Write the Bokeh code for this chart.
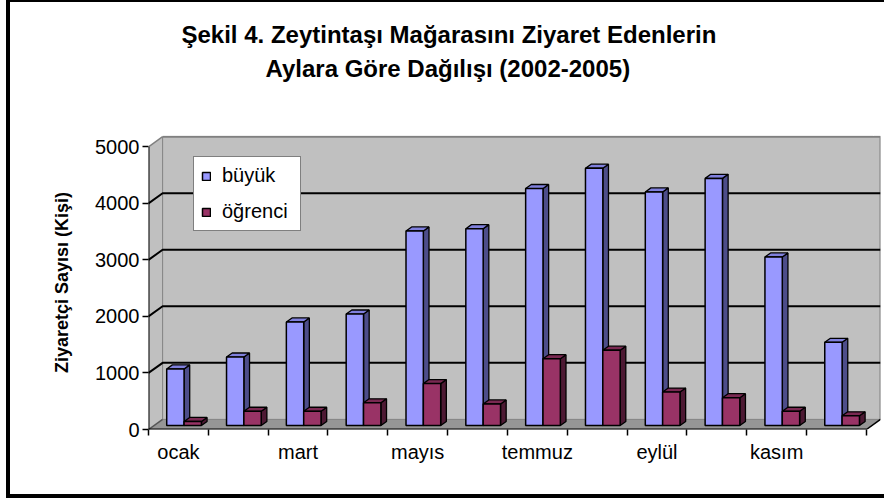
from bokeh.plotting import figure
from bokeh.models import Range1d, FixedTicker, Title, Legend, LegendItem, LinearAxis
from bokeh.embed import file_html
from bokeh.resources import INLINE

# ---------------- data ----------------
months = ["ocak", "şubat", "mart", "nisan", "mayıs", "haziran",
          "temmuz", "ağustos", "eylül", "ekim", "kasım", "aralık"]
buyuk = [1000, 1210, 1830, 1970, 3440, 3480, 4190, 4550, 4130, 4370, 2980, 1470]
ogrenci = [70, 250, 250, 400, 740, 380, 1180, 1330, 590, 490, 250, 170]
series_names = ["büyük", "öğrenci"]
y_ticks = [0, 1000, 2000, 3000, 4000, 5000]
y_max = 5000
title_lines = ["Şekil 4.  Zeytintaşı Mağarasını Ziyaret Edenlerin",
               "Aylara Göre Dağılışı (2002-2005)"]
y_title = "Ziyaretçi Sayısı (Kişi)"

# ---------------- style ----------------
FONT = "Liberation Sans"
DX = 0.236      # wall depth along x (category units)
DY = 179        # wall depth along y (value units)
BAR_FRONT = 0.4
BAR_DEPTH = 0.4
BAR_W = 0.29
front_cols = ["#9999FF", "#993366"]
side_cols = ["#4D4D8A", "#4D1933"]
top_cols = ["#8080DD", "#7A2952"]
WALL = "#C0C0C0"
FLOOR = "#969696"
EDGE = "#808080"

n = len(months)
x_end = n + DX

p = figure(width=878, height=498, output_backend="svg", toolbar_location=None,
           x_range=Range1d(0, x_end), y_range=Range1d(0, 5200),
           min_border_left=138, min_border_top=0, min_border_right=8,
           min_border_bottom=71, background_fill_color="white",
           border_fill_color="white", outline_line_color=None,
           styles={"border-left": "4px solid black", "border-top": "2px solid black",
                   "border-bottom": "4px solid black", "margin-left": "6px"})
p.xgrid.visible = False
p.ygrid.visible = False

# back wall
p.patch([DX, n + DX, n + DX, DX], [DY, DY, y_max + DY, y_max + DY],
        fill_color=WALL, line_color=None)
# left side wall
p.patch([0, DX, DX, 0], [0, DY, y_max + DY, y_max], fill_color=WALL, line_color=None)
# floor
p.patch([0, n, n + DX, DX], [0, 0, DY, DY], fill_color=FLOOR, line_color=None)
# wall edges
p.line([DX, n + DX, n + DX], [y_max + DY, y_max + DY, DY], line_color=EDGE, line_width=2)
p.line([DX, DX], [DY, y_max + DY], line_color=EDGE, line_width=1)
p.line([DX, n + DX], [DY, DY], line_color=EDGE, line_width=1)
p.line([0, DX], [y_max, y_max + DY], line_color=EDGE, line_width=1.5)
p.line([n, n + DX], [0, DY], line_color="black", line_width=1.5)
p.line([0, DX], [0, DY], line_color="#555555", line_width=1.5)
# gridlines
for v in y_ticks[1:-1]:
    p.line([0, DX, n + DX], [v, v + DY, v + DY], line_color="black", line_width=2)

# bars
renderers = []
for s, vals in enumerate([buyuk, ogrenci]):
    bx = BAR_FRONT * DX
    by = BAR_FRONT * DY
    sx = BAR_DEPTH * DX
    sy = BAR_DEPTH * DY
    x0 = [i + 0.5 - BAR_W + s * BAR_W + bx for i in range(n)]
    x1 = [a + BAR_W for a in x0]
    tops = [by + v for v in vals]
    side_xs = [[b, b, b + sx, b + sx] for b in x1]
    side_ys = [[by, t, t + sy, by + sy] for t in tops]
    top_xs = [[a, b, b + sx, a + sx] for a, b in zip(x0, x1)]
    top_ys = [[t, t, t + sy, t + sy] for t in tops]
    p.patches(side_xs, side_ys, fill_color=side_cols[s], line_color="black", line_width=1.3)
    p.patches(top_xs, top_ys, fill_color=top_cols[s], line_color="black", line_width=1.3)
    r = p.quad(left=x0, right=x1, bottom=[by] * n, top=tops,
               fill_color=front_cols[s], line_color="black", line_width=1.5)
    renderers.append(r)

# front axis lines
p.line([0, 0], [0, y_max], line_color="black", line_width=2)
p.line([0, n], [0, 0], line_color="black", line_width=2)

# y axis
ya = p.yaxis[0]
ya.ticker = FixedTicker(ticks=y_ticks)
ya.axis_line_color = None
ya.major_tick_out = 6
ya.major_tick_in = 0
ya.major_tick_line_width = 1.5
ya.minor_tick_line_color = None
ya.major_label_text_font = FONT
ya.major_label_text_font_size = "20px"
ya.major_label_text_color = "black"
ya.major_label_standoff = 3
ya.axis_label = y_title
ya.axis_label_text_font = FONT
ya.axis_label_text_font_size = "18px"
ya.axis_label_text_font_style = "bold"
ya.axis_label_text_color = "black"
ya.axis_label_standoff = 20

# x axis
xa = p.xaxis[0]
xa.ticker = FixedTicker(ticks=[i + 0.5 for i in range(0, n, 2)], minor_ticks=list(range(n + 1)))
xa.major_label_overrides = {i + 0.5: months[i] for i in range(0, n, 2)}
xa.axis_line_color = None
xa.major_tick_line_color = None
xa.major_tick_out = 0
xa.major_tick_in = 0
xa.minor_tick_line_color = "black"
xa.minor_tick_line_width = 1.5
xa.minor_tick_out = 6
xa.minor_tick_in = 0
xa.major_label_text_font = FONT
xa.major_label_text_font_size = "20px"
xa.major_label_text_color = "black"
xa.major_label_standoff = 5

# legend
legend = Legend(items=[LegendItem(label=series_names[i], renderers=[renderers[i]]) for i in range(2)],
                location=(45, 198), orientation="vertical",
                glyph_width=10, glyph_height=10, label_standoff=11, label_width=71,
                padding=7, spacing=13, margin=0,
                label_text_font=FONT, label_text_font_size="20px",
                label_text_color="black",
                border_line_color="black", border_line_width=1.5,
                background_fill_color="white", background_fill_alpha=1)
p.add_layout(legend)

SPACER_TICK = n + DX / 2   # far right, away from the title text


def spacer(h):
    # unlabeled white-tick axis used only to reserve vertical room above the frame
    return LinearAxis(ticker=FixedTicker(ticks=[SPACER_TICK]), axis_line_color=None,
                      major_tick_line_color="white", minor_tick_line_color=None,
                      major_tick_out=h, major_tick_in=0, minor_tick_out=0,
                      minor_tick_in=0, major_label_standoff=0,
                      major_label_overrides={SPACER_TICK: ""},
                      major_label_text_font_size="0px")


def title(txt, offset, standoff):
    return Title(text=txt, align="left", offset=offset, standoff=standoff,
                 text_font=FONT, text_font_size="24px", text_font_style="bold",
                 text_color="black")


# above panels, nearest to the frame first
p.add_layout(spacer(51), "above")
p.add_layout(title(title_lines[1], 117, 5), "above")
p.add_layout(title(title_lines[0], 33, 5), "above")
p.add_layout(spacer(14), "above")

open("out.html", "w").write(file_html(p, INLINE))
